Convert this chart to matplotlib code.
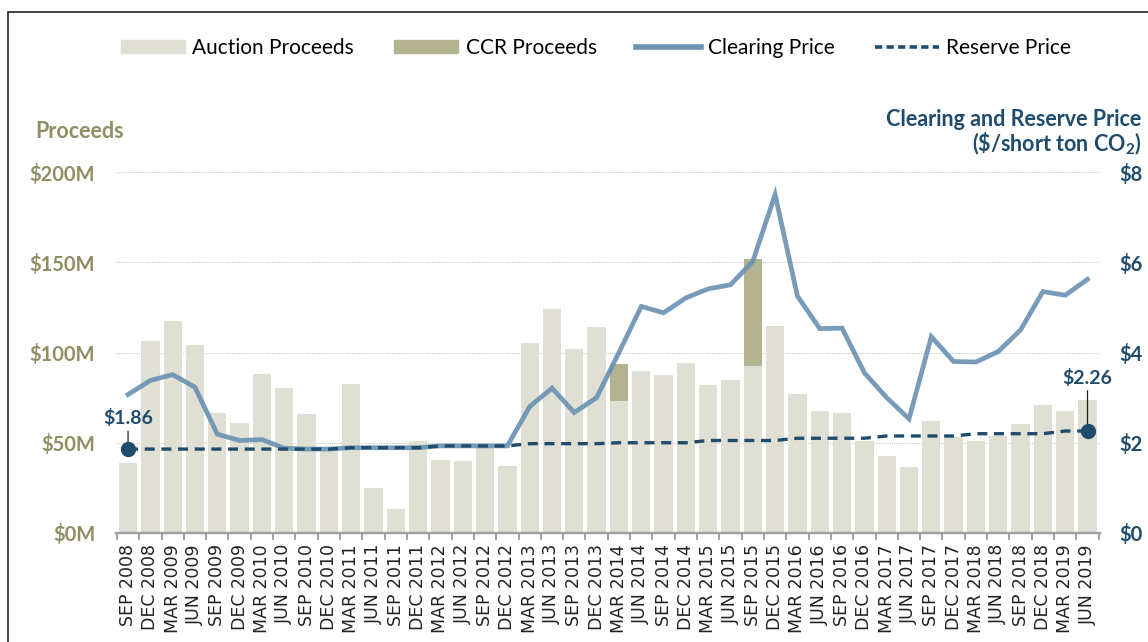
import numpy as np
import matplotlib
matplotlib.use('Agg')
import matplotlib.pyplot as plt
from matplotlib.patches import Patch, Rectangle
from matplotlib.lines import Line2D

plt.rcParams['font.family'] = ['Lato', 'DejaVu Sans']
plt.rcParams['mathtext.fontset'] = 'custom'
plt.rcParams['mathtext.rm'] = 'Lato'
plt.rcParams['mathtext.bf'] = 'Lato:bold'

# quarterly auctions, Sep 2008 .. Jun 2019
labels = ['SEP 2008', 'DEC 2008', 'MAR 2009', 'JUN 2009', 'SEP 2009', 'DEC 2009',
          'MAR 2010', 'JUN 2010', 'SEP 2010', 'DEC 2010', 'MAR 2011', 'JUN 2011',
          'SEP 2011', 'DEC 2011', 'MAR 2012', 'JUN 2012', 'SEP 2012', 'DEC 2012',
          'MAR 2013', 'JUN 2013', 'SEP 2013', 'DEC 2013', 'MAR 2014', 'JUN 2014',
          'SEP 2014', 'DEC 2014', 'MAR 2015', 'JUN 2015', 'SEP 2015', 'DEC 2015',
          'MAR 2016', 'JUN 2016', 'SEP 2016', 'DEC 2016', 'MAR 2017', 'JUN 2017',
          'SEP 2017', 'DEC 2017', 'MAR 2018', 'JUN 2018', 'SEP 2018', 'DEC 2018',
          'MAR 2019', 'JUN 2019']

# proceeds, $M
auction = [38.6, 106.5, 117.3, 104.2, 66.3, 61.1, 88.2, 80.6, 66.2, 45.6, 82.6, 24.9,
           13.4, 51.2, 40.6, 40.0, 47.4, 37.3, 105.2, 124.0, 102.0, 114.2, 73.3, 90.0,
           87.4, 94.4, 82.0, 84.8, 92.3, 114.6, 76.9, 67.4, 66.6, 51.0, 42.8, 36.8,
           62.0, 53.0, 51.0, 53.7, 60.6, 70.9, 67.4, 73.7]
ccr = [0] * 22 + [20.2] + [0] * 5 + [59.4] + [0] * 15

# $/short ton CO2
clearing = [3.07, 3.38, 3.51, 3.23, 2.19, 2.05, 2.07, 1.88, 1.86, 1.86, 1.89, 1.89,
            1.89, 1.89, 1.93, 1.93, 1.93, 1.93, 2.80, 3.21, 2.67, 3.00, 4.00, 5.02,
            4.88, 5.21, 5.41, 5.50, 6.02, 7.50, 5.25, 4.53, 4.54, 3.55, 3.00, 2.53,
            4.35, 3.80, 3.79, 4.02, 4.50, 5.35, 5.27, 5.62]
reserve = [1.86] * 10 + [1.89] * 4 + [1.93] * 4 + [1.98] * 4 + [2.00] * 4 + [2.05] * 4 + \
          [2.10] * 4 + [2.15] * 4 + [2.20] * 4 + [2.26] * 2

c_auction = '#dfdfd3'
c_ccr = '#b3b391'
c_clear = '#6b93b2'
c_res = '#1f4b6d'
c_left = '#8f8f63'

x = np.arange(len(labels))

fig = plt.figure(figsize=(11.48, 6.42), dpi=100)
ax = fig.add_axes([116 / 1148, 1 - 533 / 642, (1100 - 116) / 1148, (533 - 172) / 642])
ax2 = ax.twinx()

ax.bar(x, auction, width=0.82, color=c_auction, zorder=2)
ax.bar(x, ccr, width=0.82, bottom=auction, color=c_ccr, zorder=2)
ax.set_ylim(0, 200)
ax.set_xlim(-0.54, len(labels) - 0.44)
ax.set_yticks([0, 50, 100, 150, 200])
ax.set_yticklabels(['$0M', '$50M', '$100M', '$150M', '$200M'])
ax.yaxis.grid(True, color='#c8c8c8', linestyle=(0, (1, 1)), linewidth=0.8, zorder=0)
ax.set_axisbelow(True)

ax2.plot(x, clearing, color=c_clear, lw=3.4, alpha=0.92, solid_joinstyle='miter', zorder=3)
ax2.plot(x, reserve, color=c_res, lw=2.4, linestyle=(0, (3, 2)), zorder=4)
ax2.set_ylim(0, 8)
ax2.set_yticks([0, 2, 4, 6, 8])
ax2.set_yticklabels(['$0', '$2', '$4', '$6', '$8'])

for a in (ax, ax2):
    for s in ('top', 'left', 'right'):
        a.spines[s].set_visible(False)
    a.spines['bottom'].set_color('#a0a0a0')
    a.spines['bottom'].set_linewidth(1.6)

ax.tick_params(axis='y', length=0, pad=15, labelsize=14.5, labelcolor=c_left)
ax2.tick_params(axis='y', length=0, pad=14, labelsize=14.5, labelcolor=c_res)
for t in ax.get_yticklabels():
    t.set_fontweight('bold')
for t in ax2.get_yticklabels():
    t.set_fontweight('bold')

ax.set_xticks(x)
ax.set_xticklabels(labels, rotation=90, fontsize=12.5, color='#222222', family='DejaVu Sans')
ax.set_xticks(np.arange(len(labels) + 1) - 0.5, minor=True)
ax.tick_params(axis='x', which='major', length=0, pad=8)
ax.tick_params(axis='x', which='minor', length=5, width=1.4, color='#a0a0a0')

# end-point annotations
for i, dy in ((0, 16), (len(labels) - 1, 32)):
    ax2.plot(x[i], reserve[i], 'o', color=c_res, ms=10, zorder=5)
    ax2.annotate('$%.2f' % reserve[i], xy=(x[i], reserve[i]), xytext=(0, dy),
                 textcoords='offset points', ha='center', va='bottom',
                 fontsize=14, fontweight='bold', color=c_res,
                 arrowprops=dict(arrowstyle='-', color='#222222', lw=0.9,
                                 shrinkA=1, shrinkB=0))

fig.text(35 / 1148, 1 - 131 / 642, 'Proceeds', fontsize=15.5, fontweight='bold',
         color=c_left, ha='left', va='center')
fig.text(1141 / 1148, 1 - 120 / 642, 'Clearing and Reserve Price', fontsize=15.5,
         fontweight='bold', color=c_res, ha='right', va='center')
fig.text(1141 / 1148, 1 - 144 / 642, r'(\$/short ton CO$_\mathbf{2}$)', fontsize=15.5,
         fontweight='bold', color=c_res, ha='right', va='center')

handles = [Patch(color=c_auction), Patch(color=c_ccr),
           Line2D([], [], color=c_clear, lw=4),
           Line2D([], [], color=c_res, lw=2.6, linestyle=(0, (2, 1.2)))]
fig.legend(handles, ['Auction Proceeds', 'CCR Proceeds', 'Clearing Price', 'Reserve Price'],
           loc='center', bbox_to_anchor=(596 / 1148, 1 - 48 / 642), ncol=4, frameon=False,
           fontsize=15, handlelength=3.1, handleheight=0.6, handletextpad=0.35,
           columnspacing=1.9)

# outer frame (left and top edges visible)
fig.patches.append(Rectangle((8 / 1148, -0.1), 1.2, 1 - 12 / 642 + 0.1, transform=fig.transFigure,
                             fill=False, edgecolor='#222222', lw=1.2))

fig.savefig('out.png', dpi=100)
